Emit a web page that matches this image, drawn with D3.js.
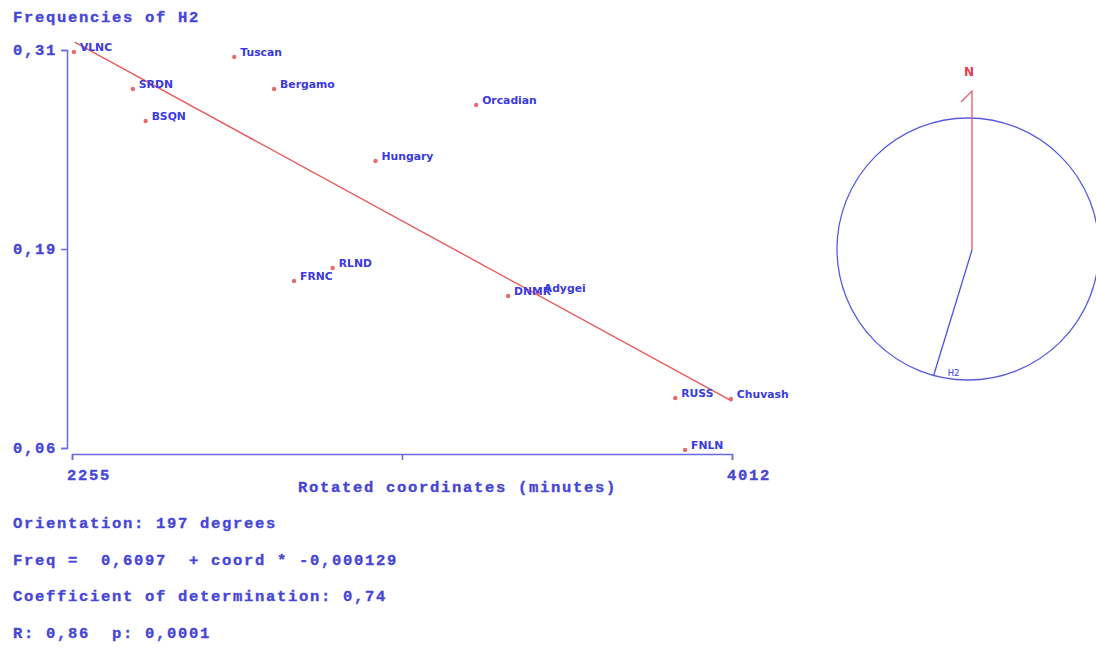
<!DOCTYPE html>
<html lang="en">
<head>
	<meta charset="UTF-8">
	<title>Frequencies of H2</title>
	<script type="text/javascript" src="https://cdn.jsdelivr.net/npm/d3@7"></script>
	<style>
		body { margin: 0; background: #fff; }
		text { white-space: pre; }
		.mono { font-family: "Liberation Mono", "Courier New", monospace; font-weight: bold; font-size: 15.5px; letter-spacing: 1.7px; fill: #4646d6; stroke: #4646d6; stroke-width: 0.35px; }
		.lab { font-family: "DejaVu Sans", Verdana, sans-serif; font-weight: bold; font-size: 10.8px; fill: #3a3ae0; }
		.axis path, .axis line { stroke: #6a6ae0; stroke-width: 1.5px; }
		.axis text { display: none; }
		.dot { fill: #e86a6a; }
	</style>
</head>
<body>
<script type="text/javascript">
	var populations = ['VLNC', 'Tuscan', 'SRDN', 'Bergamo', 'BSQN', 'Orcadian', 'Hungary', 'FRNC', 'RLND', 'DNMR', 'Adygei', 'RUSS', 'Chuvash', 'FNLN'];
	var coords = [2260, 2687, 2417, 2793, 2451, 3331, 3063, 2846, 2949, 3416, 3495, 3861, 4009, 3887];
	var freqs = [0.3087, 0.3056, 0.2855, 0.2855, 0.2654, 0.2755, 0.2403, 0.1649, 0.1731, 0.1555, 0.1574, 0.0914, 0.0908, 0.0587];

	var yTicks = [0.06, 0.185, 0.31];
	var yTickLabels = ['0,06', '0,19', '0,31'];
	var xTicks = [2255, 3133.5, 4012];
	var xTickLabels = ['2255', '', '4012'];

	// regression line ends as drawn in the original
	var regLine = [[2262, 0.315], [4012, 0.0895]];

	var orientation = 197;
	var statsLines = [
		'Orientation: 197 degrees',
		'Freq =  0,6097  + coord * -0,000129',
		'Coefficient of determination: 0,74',
		'R: 0,86  p: 0,0001'
	];

	var svg = d3.select('body').append('svg')
		.attr('width', 1096)
		.attr('height', 652);

	var x = d3.scaleLinear().domain([2255, 4012]).range([72, 732]);
	var y = d3.scaleLinear().domain([0.06, 0.31]).range([448, 50]);

	svg.append('text').attr('class', 'mono').attr('x', 13).attr('y', 22).text('Frequencies of H2');

	svg.append('g')
		.attr('class', 'axis')
		.attr('transform', 'translate(67,0)')
		.call(d3.axisLeft(y).tickValues(yTicks).tickSizeOuter(6));

	svg.selectAll('.ylab')
		.data(yTicks)
		.enter().append('text')
		.attr('class', 'mono')
		.attr('x', 13)
		.attr('y', function(d){ return y(d) + 5; })
		.text(function(d, i){ return yTickLabels[i]; });

	svg.append('g')
		.attr('class', 'axis')
		.attr('transform', 'translate(0,454)')
		.call(d3.axisBottom(x).tickValues(xTicks).tickSizeOuter(6));

	svg.selectAll('.xlab')
		.data(xTicks)
		.enter().append('text')
		.attr('class', 'mono')
		.attr('x', function(d){ return x(d) - 5; })
		.attr('y', 480)
		.text(function(d, i){ return xTickLabels[i]; });

	svg.append('text').attr('class', 'mono').attr('x', 298).attr('y', 492).text('Rotated coordinates (minutes)');

	svg.append('path')
		.datum(regLine)
		.attr('fill', 'none')
		.attr('stroke', '#e85a5a')
		.attr('stroke-width', 1.4)
		.attr('d', d3.line().x(function(d){ return x(d[0]); }).y(function(d){ return y(d[1]); }));

	var pts = populations.map(function(p, i){ return { name: p, c: coords[i], f: freqs[i] }; });

	svg.selectAll('.dot')
		.data(pts)
		.enter().append('circle')
		.attr('class', 'dot')
		.attr('r', 2.2)
		.attr('cx', function(d){ return x(d.c); })
		.attr('cy', function(d){ return y(d.f); });

	svg.selectAll('.plab')
		.data(pts)
		.enter().append('text')
		.attr('class', 'lab')
		.attr('x', function(d){ return x(d.c) + 6; })
		.attr('y', function(d){ return y(d.f) - 1; })
		.text(function(d){ return d.name; });

	svg.selectAll('.stat')
		.data(statsLines)
		.enter().append('text')
		.attr('class', 'mono')
		.attr('x', 13)
		.attr('y', function(d, i){ return 528 + i * 36.5; })
		.text(function(d){ return d; });

	// compass
	var cx = 972, cy = 250, r = 131;
	svg.append('circle')
		.attr('cx', cx - 4).attr('cy', cy - 1).attr('r', r)
		.attr('fill', 'none').attr('stroke', '#5a5ae0').attr('stroke-width', 1.3);

	svg.append('path')
		.attr('d', 'M' + cx + ',' + cy + 'V' + (cy - 159) + 'l-11,11')
		.attr('fill', 'none').attr('stroke', '#e85a6a').attr('stroke-width', 1.3);

	svg.append('text')
		.attr('x', cx - 3).attr('y', cy - 174)
		.attr('text-anchor', 'middle')
		.style('font-family', 'DejaVu Sans, Verdana, sans-serif')
		.style('font-weight', 'bold').style('font-size', '12px')
		.attr('fill', '#e83a4a')
		.text('N');

	var a = orientation * Math.PI / 180;
	var hx = cx + r * Math.sin(a), hy = cy - r * Math.cos(a);
	svg.append('line')
		.attr('x1', cx).attr('y1', cy).attr('x2', hx).attr('y2', hy)
		.attr('stroke', '#5050e0').attr('stroke-width', 1.3);

	svg.append('text')
		.attr('x', hx + 14).attr('y', hy + 1)
		.style('font-family', 'DejaVu Sans, Verdana, sans-serif')
		.style('font-size', '8.5px')
		.attr('fill', '#3434e0')
		.text('H2');
</script>
</body>
</html>
